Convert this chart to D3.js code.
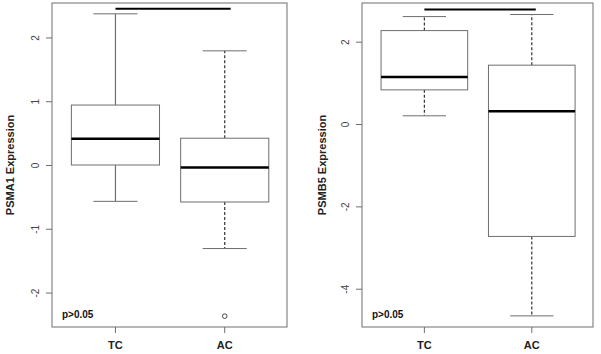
<!DOCTYPE html>
<html>
<head>
<meta charset="utf-8">
<script src="https://cdn.jsdelivr.net/npm/d3@7"></script>
<style>
  body { margin: 0; background: #fff; }
  svg { display: block; font-family: "Liberation Sans", Arial, sans-serif; }
</style>
</head>
<body>
<div id="chart-area"></div>
<script>
// Data
const groups = ["TC", "AC"]
const psma1Stats = [
  {min: -0.57, q1: 0.0, med: 0.41, q3: 0.94, max: 2.37},
  {min: -1.31, q1: -0.58, med: -0.04, q3: 0.42, max: 1.79}
]
const psma1Outliers = [[], [-2.37]]
const psma1Ticks = [-2, -1, 0, 1, 2]
const psma1Sig = 2.45

const psmb5Stats = [
  {min: 0.20, q1: 0.83, med: 1.14, q3: 2.27, max: 2.61},
  {min: -4.66, q1: -2.73, med: 0.31, q3: 1.43, max: 2.66}
]
const psmb5Outliers = [[], []]
const psmb5Ticks = [-4, -2, 0, 2]
const psmb5Sig = 2.78

// Config
const W = 601, H = 354
const svg = d3.select("#chart-area").append("svg")
  .attr("width", W).attr("height", H)

const panels = [
  {label: "PSMA1 Expression", stats: psma1Stats, out: psma1Outliers, ticks: psma1Ticks, sig: psma1Sig,
   left: 52, right: 287, domain: [-2.54, 2.54], labelX: 10, tickX: 35, dash: ["none", "3,2"], sigEnd: 6},
  {label: "PSMB5 Expression", stats: psmb5Stats, out: psmb5Outliers, ticks: psmb5Ticks, sig: psmb5Sig,
   left: 362, right: 593, domain: [-4.93, 2.94], labelX: 322, tickX: 345, dash: ["3,2", "3,2"], sigEnd: 4}
]
const plotTop = 3, plotBottom = 327
const grey = "#6e6e6e"

panels.forEach(p => {
  const w = p.right - p.left
  // box centers sit at ~27% and ~73.5% of the panel width
  const xc = d3.scaleLinear().domain([0, 1]).range([p.left + w * 0.27, p.left + w * 0.735])
  const y = d3.scaleLinear().domain(p.domain).range([plotBottom, plotTop])
  const bw = w * 0.375

  // frame
  svg.append("rect")
    .attr("x", p.left).attr("y", plotTop).attr("width", w).attr("height", plotBottom - plotTop)
    .attr("fill", "none").attr("stroke", grey).attr("stroke-width", 1)

  // y axis
  const yAxis = svg.append("g").attr("transform", `translate(${p.left},0)`)
    .call(d3.axisLeft(y).tickValues(p.ticks).tickSize(6).tickFormat(d => String(d)))
  yAxis.select(".domain").remove()
  yAxis.selectAll("line").attr("stroke", grey)
  yAxis.selectAll(".tick text")
    .attr("x", 0).attr("dy", "0.35em")
    .attr("transform", `translate(${p.tickX - p.left},0) rotate(-90)`)
    .attr("text-anchor", "middle")
    .attr("font-size", 10).attr("fill", "#444")
    .attr("font-family", "Liberation Sans, Arial, sans-serif")

  // y label
  svg.append("text")
    .attr("transform", `translate(${p.labelX + 4},${(plotTop + plotBottom) / 2}) rotate(-90)`)
    .attr("text-anchor", "middle").attr("font-size", 11).attr("font-weight", "bold")
    .attr("fill", "#222").text(p.label)

  // x ticks / labels
  groups.forEach((gName, i) => {
    const cx = xc(i)
    svg.append("line").attr("x1", cx).attr("x2", cx).attr("y1", plotBottom).attr("y2", plotBottom + 6)
      .attr("stroke", grey)
    svg.append("text").attr("x", cx).attr("y", 349).attr("text-anchor", "middle")
      .attr("font-size", 11).attr("font-weight", "bold").attr("fill", "#222").text(gName)
  })

  // boxes
  p.stats.forEach((s, i) => {
    const cx = xc(i)
    const g = svg.append("g")
    // whiskers
    ;[[s.q3, s.max], [s.q1, s.min]].forEach(([a, b]) => {
      g.append("line").attr("x1", cx).attr("x2", cx).attr("y1", y(a)).attr("y2", y(b))
        .attr("stroke", p.dash[i] === "none" ? grey : "#333").attr("stroke-width", 1.2)
        .attr("stroke-dasharray", p.dash[i] === "none" ? null : p.dash[i])
      g.append("line").attr("x1", cx - bw / 4).attr("x2", cx + bw / 4).attr("y1", y(b)).attr("y2", y(b))
        .attr("stroke", grey).attr("stroke-width", 1)
    })
    g.append("rect").attr("x", cx - bw / 2).attr("width", bw)
      .attr("y", y(s.q3)).attr("height", y(s.q1) - y(s.q3))
      .attr("fill", "#fff").attr("stroke", grey).attr("stroke-width", 1)
    g.append("line").attr("x1", cx - bw / 2).attr("x2", cx + bw / 2)
      .attr("y1", y(s.med)).attr("y2", y(s.med))
      .attr("stroke", "#000").attr("stroke-width", 2.5)
    p.out[i].forEach(o => {
      g.append("circle").attr("cx", cx).attr("cy", y(o)).attr("r", 2.3)
        .attr("fill", "none").attr("stroke", "#333").attr("stroke-width", 0.9)
    })
  })

  // significance bar
  svg.append("line").attr("x1", xc(0)).attr("x2", xc(1) + p.sigEnd)
    .attr("y1", y(p.sig)).attr("y2", y(p.sig))
    .attr("stroke", "#000").attr("stroke-width", 2)

  // p-value
  svg.append("text").attr("x", p.left + 10).attr("y", 318)
    .attr("font-size", 10).attr("font-weight", "bold").attr("fill", "#111").text("p>0.05")
})
</script>
</body>
</html>
